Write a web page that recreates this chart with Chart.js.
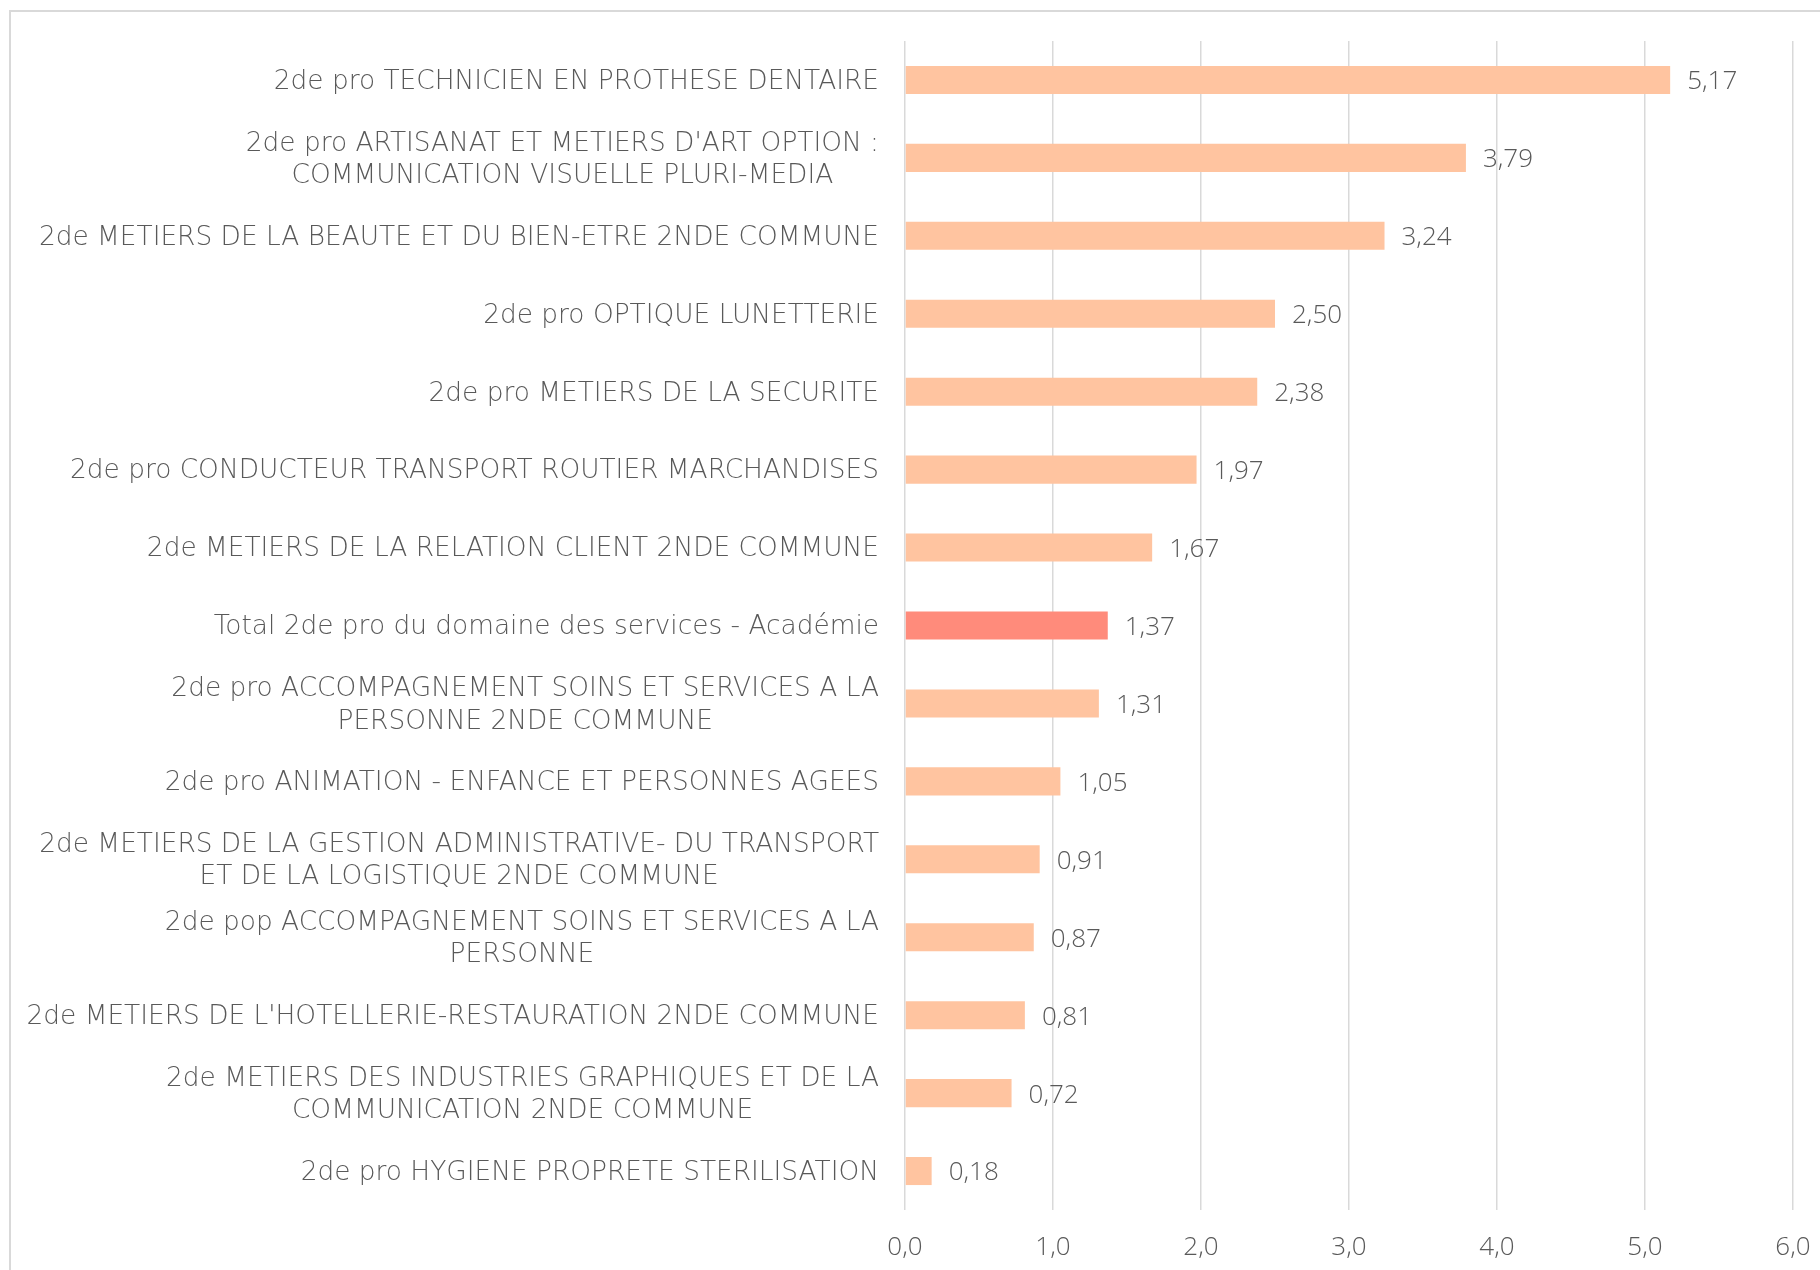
<!DOCTYPE html>
<html>
<head>
<meta charset="utf-8">
<script src="https://cdn.jsdelivr.net/npm/chart.js@4"></script>
<style>
  body { margin: 0; background: #fff; overflow: hidden; }
  #frame { position: absolute; left: 9px; top: 10px; width: 1840px; height: 1290px; border: 2px solid #d9d9d9; }
  #wrap { position: absolute; left: 0; top: 0; width: 1820px; height: 1270px; }
</style>
</head>
<body>
<div id="frame"></div>
<div id="wrap"><canvas id="chart"></canvas></div>
<script>
const categories = [
  ['2de pro TECHNICIEN EN PROTHESE DENTAIRE'],
  ['2de pro ARTISANAT ET METIERS D\'ART OPTION :', 'COMMUNICATION VISUELLE PLURI-MEDIA'],
  ['2de METIERS DE LA BEAUTE ET DU BIEN-ETRE 2NDE COMMUNE'],
  ['2de pro OPTIQUE LUNETTERIE'],
  ['2de pro METIERS DE LA SECURITE'],
  ['2de pro CONDUCTEUR TRANSPORT ROUTIER MARCHANDISES'],
  ['2de METIERS DE LA RELATION CLIENT 2NDE COMMUNE'],
  ['Total 2de pro du domaine des services - Académie'],
  ['2de pro ACCOMPAGNEMENT SOINS ET SERVICES A LA', 'PERSONNE 2NDE COMMUNE'],
  ['2de pro ANIMATION - ENFANCE ET PERSONNES AGEES'],
  ['2de METIERS DE LA GESTION ADMINISTRATIVE- DU TRANSPORT', 'ET DE LA LOGISTIQUE 2NDE COMMUNE'],
  ['2de pop ACCOMPAGNEMENT SOINS ET SERVICES A LA', 'PERSONNE'],
  ['2de METIERS DE L\'HOTELLERIE-RESTAURATION 2NDE COMMUNE'],
  ['2de METIERS DES INDUSTRIES GRAPHIQUES ET DE LA', 'COMMUNICATION 2NDE COMMUNE'],
  ['2de pro HYGIENE PROPRETE STERILISATION']
];
const values = [5.17, 3.79, 3.24, 2.50, 2.38, 1.97, 1.67, 1.37, 1.31, 1.05, 0.91, 0.87, 0.81, 0.72, 0.18];
const highlightIndex = 7;

const LABEL_FONT = '200 26.4px "DejaVu Sans", sans-serif';
const NUM_FAMILY = '"Open Sans", sans-serif';
const TXT = '#595959';
const fmt = v => v.toFixed(2).replace('.', ',');

// draws the multi-line category labels (block right aligned, lines centred) and value labels
const labelPlugin = {
  id: 'labels',
  afterDatasetsDraw(chart) {
    const ctx = chart.ctx;
    const y = chart.scales.y;
    ctx.save();
    ctx.font = LABEL_FONT;
    ctx.fillStyle = TXT;
    ctx.textBaseline = 'middle';
    ctx.textAlign = 'center';
    const right = y.right - 26;
    const lh = 32.5;
    categories.forEach((lines, i) => {
      const cy = y.getPixelForValue(i) + 2;
      const w = Math.max(...lines.map(l => ctx.measureText(l).width));
      const cx = right - w / 2;
      lines.forEach((l, j) => {
        ctx.fillText(l, cx, cy + (j - (lines.length - 1) / 2) * lh);
      });
    });
    ctx.font = `300 26px ${NUM_FAMILY}`;
    ctx.textAlign = 'left';
    chart.getDatasetMeta(0).data.forEach((bar, i) => {
      ctx.fillText(fmt(values[i]), bar.x + 17, bar.y + 2);
    });
    ctx.restore();
  }
};

new Chart(document.getElementById('chart'), {
  type: 'bar',
  data: {
    labels: categories,
    datasets: [{
      data: values,
      backgroundColor: values.map((v, i) => i === highlightIndex ? '#ff8b7b' : '#ffc4a0'),
      barPercentage: 0.36,
      categoryPercentage: 1
    }]
  },
  options: {
    indexAxis: 'y',
    responsive: true,
    maintainAspectRatio: false,
    animation: false,
    layout: { padding: { left: 0, top: 41, right: 27, bottom: 0 } },
    plugins: { legend: { display: false }, tooltip: { enabled: false } },
    scales: {
      x: {
        min: 0, max: 6,
        ticks: {
          stepSize: 1,
          color: TXT,
          font: { family: NUM_FAMILY, size: 26, weight: 300 },
          padding: 22,
          callback: v => v.toFixed(1).replace('.', ',')
        },
        grid: { color: '#d9d9d9', lineWidth: 1.5, drawTicks: false },
        border: { display: false },
        afterFit(scale) { scale.height = 60; scale.paddingLeft = 0; scale.paddingRight = 0; }
      },
      y: {
        ticks: { display: false },
        grid: { display: false },
        border: { display: false },
        afterFit(scale) { scale.width = 905; }
      }
    }
  },
  plugins: [labelPlugin]
});
</script>
</body>
</html>
